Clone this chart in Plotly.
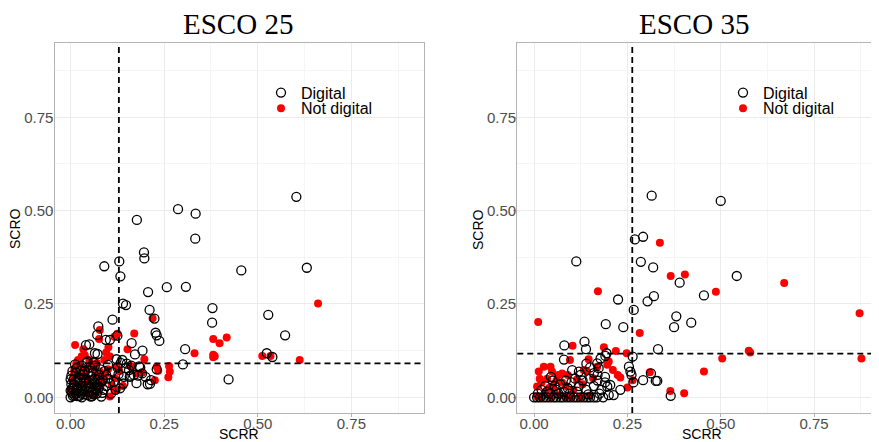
import plotly.graph_objects as go

# ---------------- data ----------------
panel_titles = ["ESCO 25", "ESCO 35"]
series_names = ["Digital", "Not digital"]
axis_titles = ["SCRR", "SCRO"]
tick_vals = [0.0, 0.25, 0.5, 0.75]
tick_text = ["0.00", "0.25", "0.50", "0.75"]

# thresholds (dashed lines)
left_vline = 0.129
left_hline = 0.091
right_vline = 0.263
right_hline = 0.117

left_digital_x = [0.603, 0.287, 0.334, 0.333, 0.177, 0.196, 0.197, 0.130, 0.090, 0.133, 0.456, 0.631, 0.257, 0.308, 0.207,
                  0.140, 0.148, 0.211, 0.379, 0.378, 0.528, 0.112, 0.224, 0.074, 0.227, 0.230, 0.237, 0.573, 0.306, 0.192,
                  0.300, 0.422, 0.524, 0.539, 0.206, 0.071, 0.094, 0.105, 0.125, 0.163, 0.172, 0.041, 0.050, 0.065, 0.072,
                  0.045, 0.061, 0.123, 0.147, 0.156, 0.169, 0.176, 0.215, 0.100, 0.141, 0.132, 0.191, 0.200, 0.128, 0.230,
                  0.160, 0.183, 0.212, 0.158,
                  0.000, 0.004, 0.008, 0.002, 0.012, 0.018, 0.022, 0.028, 0.020, 0.034, 0.038, 0.044, 0.050, 0.054, 0.060,
                  0.064, 0.070, 0.076, 0.080, 0.086, 0.091, 0.030, 0.052, 0.015, 0.002, 0.040, 0.060, 0.070, 0.100, 0.110,
                  0.095, 0.115, 0.125, 0.134, 0.138, 0.150, 0.162, 0.180, 0.186, 0.142, 0.120, 0.108, 0.085, 0.075, 0.010,
                  0.030, 0.045, 0.020, 0.035, 0.008, 0.058, 0.025, 0.055, 0.066, 0.012, 0.042, 0.065, 0.082, 0.095, 0.048,
                  0.028, 0.015, 0.005, 0.062, 0.088, 0.105, 0.026, 0.072,
                  0.000, 0.006, 0.014, 0.024, 0.032, 0.040, 0.048, 0.056, 0.064, 0.000, 0.010, 0.018, 0.036, 0.046, 0.068,
                  0.004, 0.026, 0.052, 0.078, 0.016, 0.038, 0.058]
left_digital_y = [0.537, 0.504, 0.492, 0.425, 0.475, 0.388, 0.372, 0.364, 0.351, 0.324, 0.340, 0.347, 0.295, 0.296, 0.282,
                  0.251, 0.247, 0.234, 0.239, 0.200, 0.221, 0.208, 0.211, 0.190, 0.173, 0.166, 0.151, 0.166, 0.129, 0.125,
                  0.088, 0.048, 0.118, 0.108, 0.035, 0.167, 0.154, 0.154, 0.165, 0.145, 0.115, 0.140, 0.142, 0.118, 0.116,
                  0.096, 0.093, 0.102, 0.078, 0.073, 0.060, 0.038, 0.046, 0.087, 0.037, 0.024, 0.064, 0.055, 0.062, 0.075,
                  0.058, 0.083, 0.036, 0.055,
                  0.000, 0.012, 0.025, 0.035, 0.042, 0.003, 0.016, 0.030, 0.052, 0.061, 0.008, 0.024, 0.040, 0.002, 0.019,
                  0.050, 0.034, 0.060, 0.075, 0.046, 0.070, 0.085, 0.080, 0.066, 0.058, 0.045, 0.066, 0.010, 0.050, 0.068,
                  0.030, 0.042, 0.080, 0.092, 0.100, 0.090, 0.085, 0.058, 0.080, 0.055, 0.020, 0.010, 0.012, 0.025, 0.006,
                  0.000, 0.006, 0.025, 0.040, 0.048, 0.046, 0.072, 0.056, 0.030, 0.088, 0.092, 0.085, 0.002, 0.060, 0.015,
                  0.010, 0.020, 0.070, 0.008, 0.020, 0.038, 0.048, 0.048,
                  0.018, 0.004, 0.010, 0.004, 0.018, 0.030, 0.026, 0.012, 0.038, 0.048, 0.034, 0.044, 0.052, 0.064, 0.022,
                  0.024, 0.060, 0.028, 0.040, 0.078, 0.070, 0.003]

left_notdig_x = [0.661, 0.219, 0.331, 0.381, 0.398, 0.417, 0.381, 0.385, 0.381, 0.512, 0.534, 0.612, 0.078, 0.125, 0.170,
                 0.117, 0.076, 0.101, 0.012, 0.034, 0.038, 0.152, 0.105, 0.197, 0.123, 0.161, 0.191, 0.176, 0.230, 0.234,
                 0.263, 0.265, 0.261, 0.225, 0.118, 0.110, 0.118, 0.105, 0.078, 0.083,
                 0.015, 0.010, 0.020, 0.005, 0.030, 0.040, 0.025, 0.045, 0.050, 0.055, 0.060, 0.065, 0.070, 0.035, 0.010,
                 0.000, 0.045, 0.060, 0.075, 0.090, 0.030, 0.020, 0.050, 0.080, 0.092, 0.100, 0.130, 0.140, 0.095, 0.030,
                 0.008, 0.040, 0.068]
left_notdig_y = [0.251, 0.212, 0.118, 0.156, 0.145, 0.160, 0.114, 0.110, 0.107, 0.111, 0.111, 0.100, 0.180, 0.170, 0.171,
                 0.162, 0.156, 0.134, 0.140, 0.129, 0.113, 0.129, 0.109, 0.102, 0.082, 0.084, 0.066, 0.064, 0.082, 0.071,
                 0.084, 0.069, 0.054, 0.046, 0.051, 0.033, 0.020, 0.002, 0.069, 0.046,
                 0.090, 0.075, 0.060, 0.045, 0.080, 0.070, 0.030, 0.050, 0.100, 0.085, 0.030, 0.075, 0.092, 0.012, 0.010,
                 0.020, 0.020, 0.005, 0.015, 0.100, 0.055, 0.100, 0.035, 0.030, 0.060, 0.075, 0.070, 0.030, 0.120, 0.110,
                 0.060, 0.040, 0.058]

right_digital_x = [0.315, 0.500, 0.270, 0.292, 0.113, 0.286, 0.319, 0.543, 0.390, 0.455, 0.321, 0.304, 0.225, 0.267, 0.381,
                   0.375, 0.421, 0.192, 0.239, 0.332, 0.081, 0.135, 0.139, 0.366, 0.264, 0.080, 0.292, 0.326, 0.330, 0.313,
                   0.178, 0.191, 0.194, 0.169, 0.173, 0.102, 0.120, 0.254, 0.258, 0.261, 0.266, 0.231, 0.213, 0.200, 0.204,
                   0.196,
                   0.000, 0.008, 0.016, 0.025, 0.034, 0.043, 0.052, 0.060, 0.070, 0.078, 0.088, 0.097, 0.106, 0.115, 0.124,
                   0.133, 0.142, 0.150, 0.160, 0.168, 0.185,
                   0.020, 0.030, 0.040, 0.050, 0.060, 0.070, 0.080, 0.090, 0.100, 0.110, 0.120, 0.130, 0.140, 0.150, 0.160,
                   0.170, 0.180, 0.190, 0.045, 0.085, 0.150, 0.170, 0.125, 0.140, 0.010, 0.035, 0.055, 0.065, 0.095, 0.115,
                   0.145, 0.175, 0.190, 0.160]
right_digital_y = [0.540, 0.526, 0.423, 0.430, 0.364, 0.363, 0.348, 0.325, 0.307, 0.273, 0.271, 0.257, 0.262, 0.234, 0.217,
                   0.188, 0.200, 0.196, 0.188, 0.129, 0.139, 0.149, 0.129, 0.004, 0.109, 0.101, 0.046, 0.044, 0.044, 0.064,
                   0.104, 0.111, 0.118, 0.091, 0.078, 0.073, 0.069, 0.082, 0.069, 0.060, 0.040, 0.020, 0.006, 0.006, 0.033,
                   0.029,
                   0.0, 0.0, 0.0, 0.0, 0.0, 0.0, 0.0, 0.0, 0.0, 0.0, 0.0, 0.0, 0.0, 0.0, 0.0,
                   0.0, 0.0, 0.0, 0.0, 0.0, 0.0,
                   0.020, 0.030, 0.010, 0.045, 0.020, 0.035, 0.015, 0.025, 0.040, 0.050, 0.030, 0.045, 0.020, 0.050, 0.030,
                   0.045, 0.020, 0.055, 0.055, 0.045, 0.080, 0.060, 0.060, 0.090, 0.010, 0.015, 0.030, 0.010, 0.010, 0.015,
                   0.008, 0.010, 0.040, 0.065]

right_notdig_x = [0.337, 0.366, 0.404, 0.670, 0.487, 0.171, 0.872, 0.877, 0.011, 0.283, 0.575, 0.579, 0.504, 0.455, 0.365,
                  0.402, 0.103, 0.096, 0.219, 0.248, 0.187, 0.310, 0.264, 0.250, 0.146, 0.026, 0.044, 0.048, 0.0125, 0.075,
                  0.133, 0.142, 0.169, 0.196, 0.200, 0.211, 0.224, 0.231, 0.158, 0.115, 0.008, 0.008, 0.030,
                  0.020, 0.035, 0.050, 0.060, 0.040, 0.065, 0.055, 0.070, 0.020, 0.045, 0.085, 0.100, 0.125, 0.150, 0.085,
                  0.105, 0.130, 0.015, 0.075, 0.090]
right_notdig_y = [0.414, 0.325, 0.329, 0.306, 0.283, 0.284, 0.225, 0.104, 0.202, 0.172, 0.125, 0.120, 0.104, 0.069, 0.017,
                  0.011, 0.138, 0.100, 0.124, 0.118, 0.134, 0.067, 0.046, 0.026, 0.102, 0.082, 0.082, 0.069, 0.069, 0.064,
                  0.073, 0.069, 0.082, 0.087, 0.096, 0.073, 0.060, 0.053, 0.051, 0.048, 0.029, 0.002, 0.015,
                  0.040, 0.050, 0.030, 0.045, 0.025, 0.060, 0.015, 0.005, 0.000, 0.000, 0.000, 0.000, 0.000, 0.005, 0.030,
                  0.020, 0.035, 0.050, 0.040, 0.060]

# ---------------- styling ----------------
WIN_W, WIN_H = 879, 442
OFF = 8  # default body margin of the html page
W, H = WIN_W - OFF, WIN_H - OFF
RED = "#ff0000"
GRID = "#ebebeb"
MINOR = "#f5f5f5"
BORDER = "#b3b3b3"
SANS = "Liberation Sans, Arial, sans-serif"
SERIF = "Liberation Serif, Times New Roman, serif"

def px_x(p):
    return (p - OFF) / W

def px_y(p):
    return 1 - (p - OFF) / H

fig = go.Figure()

panels = [
    dict(xa="x", ya="y", dx=left_digital_x, dy=left_digital_y, nx=left_notdig_x, ny=left_notdig_y,
         lg=("legend", "legend2")),
    dict(xa="x2", ya="y2", dx=right_digital_x, dy=right_digital_y, nx=right_notdig_x, ny=right_notdig_y,
         lg=("legend3", "legend4")),
]

for p in panels:
    fig.add_trace(go.Scatter(
        x=p["nx"], y=p["ny"], mode="markers", name=series_names[1],
        xaxis=p["xa"], yaxis=p["ya"], legend=p["lg"][1],
        marker=dict(symbol="circle", size=8, color=RED),
    ))
    fig.add_trace(go.Scatter(
        x=p["dx"], y=p["dy"], mode="markers", name=series_names[0],
        xaxis=p["xa"], yaxis=p["ya"], legend=p["lg"][0],
        marker=dict(symbol="circle-open", size=9, color="black", line=dict(width=1.3, color="black")),
    ))

def axis_cfg(domain, rng, anchor):
    return dict(domain=domain, range=rng, anchor=anchor, tickvals=tick_vals, ticktext=tick_text,
                showgrid=True, gridcolor=GRID, gridwidth=1, zeroline=False,
                minor=dict(dtick=0.125, tick0=0.125, showgrid=True, gridcolor=MINOR, gridwidth=1),
                showline=True, mirror=True, linecolor=BORDER, linewidth=1.3,
                ticks="outside", ticklen=3, tickcolor=BORDER,
                ticklabelstandoff=-6,
                tickfont=dict(family=SANS, size=15, color="#4d4d4d"),
                automargin=False)

ydom = [px_y(413), px_y(43)]
fig.update_layout(
    xaxis=axis_cfg([px_x(54.5), px_x(424)], [-0.043, 0.944], "y"),
    yaxis=axis_cfg(ydom, [-0.042, 0.949], "x"),
    xaxis2=axis_cfg([px_x(517.3), 1.0], [-0.045, 0.924], "y2"),
    yaxis2=axis_cfg(ydom, [-0.042, 0.949], "x2"),
)

# dashed reference lines
dash_line = dict(color="black", width=1.8, dash="6px,4px")
fig.add_shape(type="line", xref="x", yref="y domain", x0=left_vline, x1=left_vline, y0=0, y1=1, line=dash_line)
fig.add_shape(type="line", xref="x domain", yref="y", x0=0, x1=1, y0=left_hline, y1=left_hline, line=dash_line)
fig.add_shape(type="line", xref="x2", yref="y2 domain", x0=right_vline, x1=right_vline, y0=0, y1=1, line=dash_line)
fig.add_shape(type="line", xref="x2 domain", yref="y2", x0=0, x1=1, y0=right_hline, y1=right_hline, line=dash_line)

# titles
for txt, cx in zip(panel_titles, [238, 694]):
    fig.add_annotation(text=txt, x=px_x(cx), y=px_y(24), xref="paper", yref="paper",
                       xanchor="center", yanchor="middle", showarrow=False,
                       font=dict(family=SERIF, size=29, color="black"))

# axis titles
ax_font = dict(family=SANS, size=14, color="black")
for cx in [239, 701.7]:
    fig.add_annotation(text=axis_titles[0], x=px_x(cx), y=px_y(433.5), xref="paper", yref="paper",
                       xanchor="center", yanchor="middle", showarrow=False, font=ax_font)
for cx in [15, 478]:
    fig.add_annotation(text=axis_titles[1], x=px_x(cx), y=px_y(229), xref="paper", yref="paper",
                       xanchor="center", yanchor="middle", showarrow=False, textangle=-90, font=ax_font)

# legends (one per entry so spacing can match)
leg_font = dict(family=SANS, size=16, color="black")
def legend_cfg(text_x, cy):
    return dict(x=px_x(text_x - 40), y=px_y(cy), xanchor="left", yanchor="middle",
                bgcolor="rgba(0,0,0,0)", borderwidth=0, font=leg_font, itemwidth=30,
                tracegroupgap=0)

fig.update_layout(
    legend=legend_cfg(301, 92.7),
    legend2=legend_cfg(301, 108.3),
    legend3=legend_cfg(763, 92.7),
    legend4=legend_cfg(763, 108.3),
    width=W, height=H,
    margin=dict(l=0, r=0, t=0, b=0),
    paper_bgcolor="white", plot_bgcolor="white",
    showlegend=True,
)

fig.write_html("out.html")
